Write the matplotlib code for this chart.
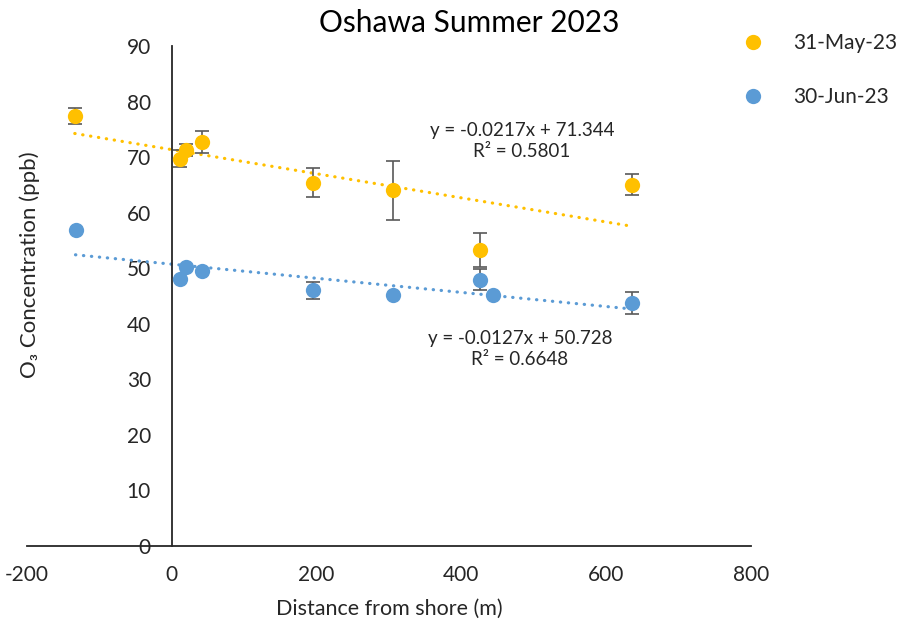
import numpy as np
import matplotlib
matplotlib.use("Agg")
import matplotlib.pyplot as plt
from matplotlib.lines import Line2D

plt.rcParams['font.family'] = ['Lato', 'DejaVu Sans']
plt.rcParams['axes.unicode_minus'] = False

# data
may_x = [-134, 11, 20, 42, 195, 306, 426, 636]
may_y = [77.4, 69.7, 71.3, 72.7, 65.4, 64.0, 53.3, 65.0]
may_err = [1.5, 1.5, 1.1, 2.0, 2.6, 5.3, 3.1, 1.9]

jun_x = [-133, 11, 20, 42, 195, 306, 426, 443, 636]
jun_y = [56.8, 48.0, 50.3, 49.5, 46.0, 45.1, 47.9, 45.1, 43.7]
jun_err = [0, 0, 0, 0, 1.6, 0, 1.9, 0, 2.0]

# trend line coefficients as printed on the chart
may_fit = (-0.0217, 71.344, 0.5801)
jun_fit = (-0.0127, 50.728, 0.6648)

c_may = '#FFC000'
c_jun = '#5B9BD5'
txt = '#262626'

fig = plt.figure(figsize=(9.06, 6.19), dpi=100)
ax = fig.add_axes([27/906, 1-546/619, 724/906, 500/619])

def series(x, y, err, fit, col, lab):
    ax.errorbar(x, y, yerr=err, fmt='none', ecolor='#595959', elinewidth=1.2,
                capsize=5, capthick=1.2, zorder=3)
    xs = np.array([min(x), max(x)])
    ax.plot(xs, fit[0]*xs + fit[1], color=col, lw=2.3,
            linestyle=(0, (0.1, 2.4)), dash_capstyle='round', zorder=2)
    ax.plot(x, y, 'o', color=col, ms=11, mec='none', zorder=4, label=lab)

series(may_x, may_y, may_err, may_fit, c_may, '31-May-23')
series(jun_x, jun_y, jun_err, jun_fit, c_jun, '30-Jun-23')

ax.set_xlim(-200, 800)
ax.set_ylim(0, 90)
ax.set_xticks(np.arange(-200, 801, 200))
ax.set_yticks(np.arange(0, 91, 10))
ax.spines['left'].set_position(('data', 0))
ax.spines['top'].set_visible(False)
ax.spines['right'].set_visible(False)
for s in ['left', 'bottom']:
    ax.spines[s].set_linewidth(1.3)
    ax.spines[s].set_color(txt)
ax.tick_params(axis='both', length=0, labelsize=15, colors=txt)
ax.tick_params(axis='y', pad=15)
ax.tick_params(axis='x', pad=14)

fig.text(389/906, 1-609/619, 'Distance from shore (m)', fontsize=15.5,
         ha='center', va='center', color=txt)
ax.set_ylabel('O₃ Concentration (ppb)', fontsize=16, color=txt)
ax.yaxis.set_label_coords(0.018, 0.562)

fig.text(469/906, 1-23/619, 'Oshawa Summer 2023', fontsize=21.5, ha='center',
         va='center', color='#000000')

def eq_text(fit, px, py):
    s = 'y = %.4fx + %.3f\nR² = %.4f' % fit
    fig.text(px/906, 1-py/619, s, fontsize=13.5, ha='center', va='center',
             linespacing=1.35, color=txt)

eq_text(may_fit, 522, 141)
eq_text(jun_fit, 520, 349)

handles = [Line2D([], [], marker='o', ls='none', color=c_may, ms=11, mec='none'),
           Line2D([], [], marker='o', ls='none', color=c_jun, ms=11, mec='none')]
fig.legend(handles, ['31-May-23', '30-Jun-23'], loc='upper left',
           bbox_to_anchor=(743/906, 1-33/619), frameon=False, fontsize=15,
           handlelength=1, handletextpad=1.4, labelspacing=1.65, borderaxespad=0,
           borderpad=0, labelcolor=txt)

fig.savefig('out.png', dpi=100)
